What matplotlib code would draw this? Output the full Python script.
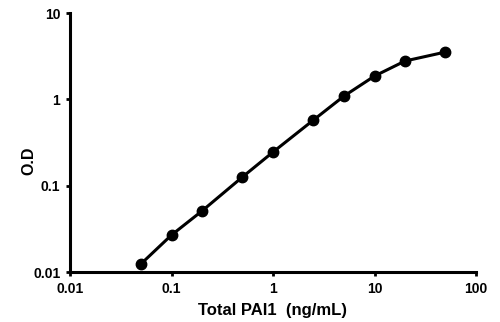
import matplotlib
matplotlib.use("Agg")
import matplotlib.pyplot as plt
from matplotlib.ticker import FixedLocator, FixedFormatter, NullLocator

# standard curve: concentration vs optical density
conc = [0.05, 0.1, 0.2, 0.5, 1, 2.5, 5, 10, 20, 50]
od = [0.0124, 0.0268, 0.051, 0.126, 0.245, 0.575, 1.09, 1.86, 2.78, 3.53]

x_ticks = [0.01, 0.1, 1, 10, 100]
x_labels = ["0.01", "0.1", "1", "10", "100"]
y_ticks = [0.01, 0.1, 1, 10]
y_labels = ["0.01", "0.1", "1", "10"]

plt.rcParams["font.family"] = ["Liberation Sans", "DejaVu Sans"]
plt.rcParams["font.weight"] = "bold"

fig = plt.figure(figsize=(5, 3.22), dpi=100)
ax = fig.add_axes([70 / 500, 1 - 272 / 322, 406 / 500, 259 / 322])

ax.plot(conc, od, color="black", lw=2.2, marker="o", ms=7.5, zorder=3)

ax.set_xscale("log")
ax.set_yscale("log")
ax.set_xlim(0.01, 100)
ax.set_ylim(0.01, 10)

ax.xaxis.set_major_locator(FixedLocator(x_ticks))
ax.xaxis.set_major_formatter(FixedFormatter(x_labels))
ax.yaxis.set_major_locator(FixedLocator(y_ticks))
ax.yaxis.set_major_formatter(FixedFormatter(y_labels))
ax.xaxis.set_minor_locator(NullLocator())
ax.yaxis.set_minor_locator(NullLocator())

for side in ["top", "right"]:
    ax.spines[side].set_visible(False)
for side in ["left", "bottom"]:
    ax.spines[side].set_linewidth(2.2)

ax.tick_params(axis="both", direction="out", length=3, width=2, labelsize=10, pad=4)
for lbl in ax.get_xticklabels() + ax.get_yticklabels():
    lbl.set_fontweight("bold")

ax.set_xlabel("Total PAI1  (ng/mL)", fontsize=12, fontweight="bold", labelpad=5)
ax.set_ylabel("O.D", fontsize=11.5, fontweight="bold")
ax.yaxis.set_label_coords(-0.083, 0.43)

fig.savefig("out.png", dpi=100)
